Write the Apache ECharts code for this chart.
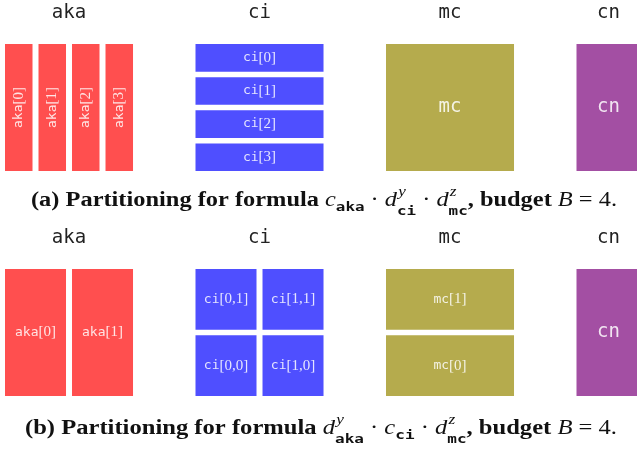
<!DOCTYPE html>
<html>
<head>
<meta charset="utf-8">
<script src="https://cdn.jsdelivr.net/npm/echarts@6/dist/echarts.min.js"></script>
<style>
html, body { margin: 0; padding: 0; background: #fff; }
#chart { width: 637px; height: 449px; }
</style>
</head>
<body>
<div id="chart"></div>
<script>
// tables and their colours
var tables = ['aka', 'ci', 'mc', 'cn'];
var colors = ['#ff4f4f', '#4f4fff', '#b5ab4d', '#a34fa3'];

// (a) partition grid: columns x rows per table, cell labels row by row from the top
var colsA = [4, 1, 1, 1];
var rowsA = [1, 4, 1, 1];
var cellsA = [
    ['aka[0]', 'aka[1]', 'aka[2]', 'aka[3]'],
    ['ci[0]', 'ci[1]', 'ci[2]', 'ci[3]'],
    ['mc'],
    ['cn']
];

// (b) partition grid
var colsB = [2, 2, 1, 1];
var rowsB = [1, 2, 2, 1];
var cellsB = [
    ['aka[0]', 'aka[1]'],
    ['ci[0,1]', 'ci[1,1]', 'ci[0,0]', 'ci[1,0]'],
    ['mc[1]', 'mc[0]'],
    ['cn']
];

// layout (slot units on the hidden x axis)
var blockW = 0.672;          // block width in slot units
var blockScale = [1, 1, 1, 0.5];
var gapX = 6, gapY = 5.5;    // px between cells

var mono = '"DejaVu Sans Mono"';
var serif = '"Liberation Serif"';
var white = 'rgba(255,255,255,0.85)';

function cellText(label) {
    var m = label.match(/^([a-z]+)(\[.*\])?$/);
    if (!m[2]) {
        return { text: label, font: '19px ' + mono };
    }
    return {
        text: '{n|' + m[1] + '}{b|' + m[2] + '}',
        rich: {
            n: { fontFamily: mono, fontSize: 13, fill: white },
            b: { fontFamily: serif, fontSize: 15, fill: white }
        }
    };
}

function makeRender(cols, rows, cells) {
    return function (params, api) {
        var i = api.value(0);
        var w0 = blockW * blockScale[i];
        var p0 = api.coord([i, 1]);
        var p1 = api.coord([i + w0, 0]);
        var x0 = p0[0], y0 = p0[1];
        var w = p1[0] - p0[0], h = p1[1] - p0[1];
        var nc = cols[i], nr = rows[i];
        var cw = (w - gapX * (nc - 1)) / nc;
        var ch = (h - gapY * (nr - 1)) / nr;
        var children = [];
        children.push({
            type: 'text',
            x: x0 + w / 2,
            y: y0 - 31,
            style: {
                text: tables[i], font: '19px ' + mono, fill: '#222',
                align: 'center', verticalAlign: 'middle'
            }
        });
        for (var r = 0; r < nr; r++) {
            for (var c = 0; c < nc; c++) {
                var cx = x0 + c * (cw + gapX);
                var cy = y0 + r * (ch + gapY);
                children.push({
                    type: 'rect',
                    shape: { x: cx, y: cy, width: cw, height: ch },
                    style: { fill: colors[i] }
                });
                var t = cellText(cells[i][r * nc + c]);
                var st = { text: t.text, fill: white, align: 'center', verticalAlign: 'middle' };
                if (t.font) st.font = t.font;
                if (t.rich) st.rich = t.rich;
                children.push({
                    type: 'text',
                    x: cx + cw / 2,
                    y: cy + ch / 2,
                    rotation: cw < 40 ? Math.PI / 2 : 0,
                    style: st
                });
            }
        }
        return { type: 'group', children: children };
    };
}

// caption pieces
var B = 'bold 20px ' + serif, I = 'italic 20px ' + serif, R = '20px ' + serif;
var SUB = 'bold 13px ' + mono, SUP = 'italic 14px ' + serif;
var capA = [
    { t: '(a) Partitioning for formula ', f: B },
    { t: 'c', f: I }, { sub: 'aka', dsub: 5 },
    { t: ' \u00b7 ', f: R },
    { t: 'd', f: I }, { sup: 'y', sub: 'ci', dsub: 9 },
    { t: ' \u00b7 ', f: R },
    { t: 'd', f: I }, { sup: 'z', sub: 'mc', dsub: 9 },
    { t: ', budget ', f: B },
    { t: 'B', f: I }, { t: ' = 4.', f: R }
];
var capB = [
    { t: '(b) Partitioning for formula ', f: B },
    { t: 'd', f: I }, { sup: 'y', sub: 'aka', dsub: 9 },
    { t: ' \u00b7 ', f: R },
    { t: 'c', f: I }, { sub: 'ci', dsub: 5 },
    { t: ' \u00b7 ', f: R },
    { t: 'd', f: I }, { sup: 'z', sub: 'mc', dsub: 9 },
    { t: ', budget ', f: B },
    { t: 'B', f: I }, { t: ' = 4.', f: R }
];

var ctx = document.createElement('canvas').getContext('2d');
function measure(text, font) {
    ctx.font = font;
    return ctx.measureText(text).width;
}
function fontSize(font) {
    return parseFloat(font.match(/(\d+)px/)[1]);
}

// lays the pieces out in a row, then stretches the row to span left..right
function caption(parts, left, right, baseline) {
    var items = [];
    var x = 0;
    parts.forEach(function (p) {
        if (p.t) {
            items.push({ t: p.t, f: p.f, x: x, y: baseline });
            x += measure(p.t, p.f);
        } else {
            var w = 0;
            if (p.sup) {
                items.push({ t: p.sup, f: SUP, x: x + 1, y: baseline - 10 });
                w = measure(p.sup, SUP) + 1;
            }
            if (p.sub) {
                items.push({ t: p.sub, f: SUB, x: x, y: baseline + p.dsub });
                w = Math.max(w, measure(p.sub, SUB));
            }
            x += w;
        }
    });
    return {
        type: 'group',
        x: left,
        y: 0,
        scaleX: (right - left) / x,
        children: items.map(function (it) {
            return {
                type: 'text',
                x: it.x,
                y: it.y - fontSize(it.f) * 0.32,
                style: { text: it.t, font: it.f, fill: '#111', align: 'left', verticalAlign: 'middle' }
            };
        })
    };
}

var data = tables.map(function (t, i) { return [i]; });

var chart = echarts.init(document.getElementById('chart'));
var option = {
    animation: false,
    grid: [
        { left: 0, right: 0, top: 44, height: 127 },
        { left: 0, right: 0, top: 269, height: 127 }
    ],
    xAxis: [
        { type: 'value', gridIndex: 0, min: -5 / 190.5, max: 632 / 190.5, show: false },
        { type: 'value', gridIndex: 1, min: -5 / 190.5, max: 632 / 190.5, show: false }
    ],
    yAxis: [
        { type: 'value', gridIndex: 0, min: 0, max: 1, show: false },
        { type: 'value', gridIndex: 1, min: 0, max: 1, show: false }
    ],
    series: [
        {
            type: 'custom', xAxisIndex: 0, yAxisIndex: 0, clip: false,
            renderItem: makeRender(colsA, rowsA, cellsA), data: data
        },
        {
            type: 'custom', xAxisIndex: 1, yAxisIndex: 1, clip: false,
            renderItem: makeRender(colsB, rowsB, cellsB), data: data
        }
    ],
    graphic: [caption(capA, 31, 617, 207), caption(capB, 25, 617, 435)]
};
chart.setOption(option);
</script>
</body>
</html>
